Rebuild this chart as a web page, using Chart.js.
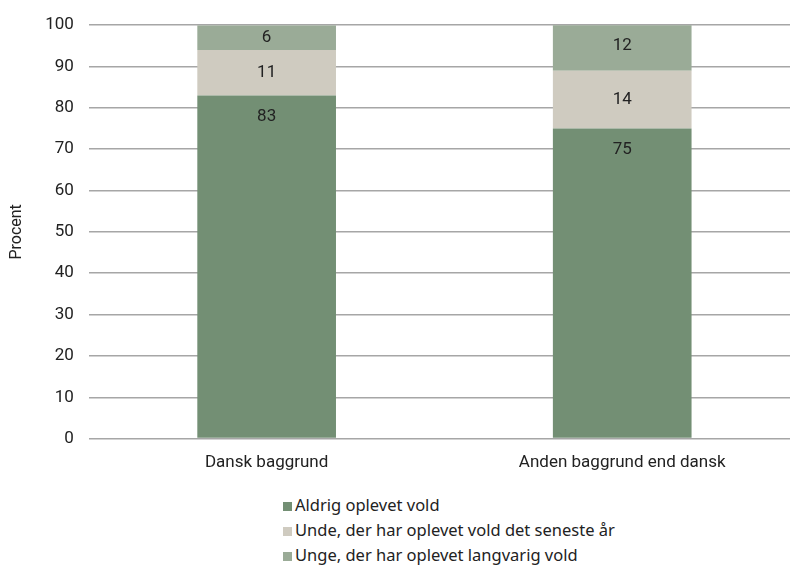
<!DOCTYPE html>
<html>
<head>
<meta charset="utf-8">
<script src="https://cdn.jsdelivr.net/npm/chart.js@4/dist/chart.umd.min.js"></script>
<style>
  body { margin: 0; background: #fff; }
  #wrap { position: relative; width: 790px; height: 567px; overflow: hidden; }
  #box { position: absolute; left: 0; top: 0; width: 800px; height: 479px; }
  #legend { position: absolute; left: 283px; top: 492px; font-family: "Noto Sans", sans-serif; font-size: 16.5px; color: #222; }
  #legend div { height: 25px; line-height: 25px; white-space: nowrap; }
  #legend span { display: inline-block; width: 9px; height: 9px; margin-right: 3px; }
</style>
</head>
<body>
<div id="wrap">
  <div id="box"><canvas id="voldChart"></canvas></div>
  <div id="legend"></div>
</div>
<script>
const categories = ['Dansk baggrund', 'Anden baggrund end dansk'];
const aldrig = [83, 75];
const seneste = [11, 14];
const langvarig = [6, 12];
const seriesNames = ['Aldrig oplevet vold', 'Unde, der har oplevet vold det seneste år', 'Unge, der har oplevet langvarig vold'];
const colors = ['#738f74', '#cfcbc0', '#9aab97'];

// draw the value labels inside the segments
const segLabels = {
  id: 'segLabels',
  afterDatasetsDraw(chart) {
    const c = chart.ctx;
    c.save();
    c.font = '17px Roboto, sans-serif';
    c.fillStyle = '#222';
    c.textAlign = 'center';
    c.textBaseline = 'middle';
    chart.data.datasets.forEach((ds, i) => {
      chart.getDatasetMeta(i).data.forEach((bar, j) => {
        const y = i === 0 ? bar.y + 21 : (bar.y + bar.base) / 2;
        c.fillText(ds.data[j], bar.x, y);
      });
    });
    c.restore();
  }
};

const ctx = document.getElementById('voldChart').getContext('2d');
const chart = new Chart(ctx, {
  type: 'bar',
  data: {
    labels: categories,
    datasets: [
      { label: seriesNames[0], data: aldrig, backgroundColor: colors[0] },
      { label: seriesNames[1], data: seneste, backgroundColor: colors[1] },
      { label: seriesNames[2], data: langvarig, backgroundColor: colors[2] }
    ]
  },
  options: {
    responsive: true,
    maintainAspectRatio: false,
    animation: false,
    layout: { padding: { top: 13, right: 0, left: 3 } },
    datasets: { bar: { categoryPercentage: 1, barPercentage: 0.39 } },
    plugins: { legend: { display: false }, tooltip: { enabled: false } },
    scales: {
      x: {
        stacked: true,
        grid: { display: false },
        border: { display: false },
        ticks: { color: '#222', font: { family: 'Roboto', size: 17 }, padding: 6 }
      },
      y: {
        stacked: true,
        min: 0, max: 100,
        ticks: { stepSize: 10, color: '#222', font: { family: 'Roboto', size: 17 }, padding: 15 },
        grid: { color: '#a6a6a6', lineWidth: 1.5, drawTicks: false },
        border: { display: false },
        title: { display: true, text: 'Procent', color: '#222', font: { family: 'Roboto', size: 16 }, padding: 4 }
      }
    }
  },
  plugins: [segLabels]
});

const legend = document.getElementById('legend');
legend.innerHTML = chart.data.datasets.map(
  d => `<div><span style="background:${d.backgroundColor}"></span>${d.label}</div>`
).join('');
</script>
</body>
</html>
